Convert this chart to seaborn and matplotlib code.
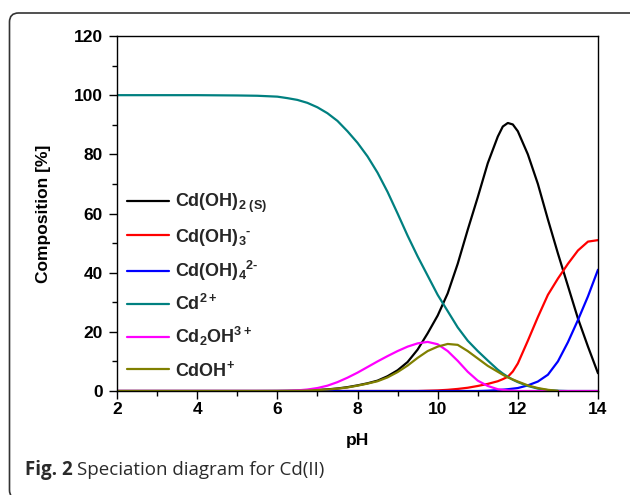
import numpy as np
import pandas as pd
import seaborn as sns
import matplotlib
matplotlib.use("Agg")
import matplotlib.pyplot as plt
from matplotlib.patches import FancyBboxPatch
from matplotlib.transforms import IdentityTransform
from matplotlib.ticker import MultipleLocator

# ---------------- data ----------------
ph = [2, 3, 4, 5, 5.5, 6, 6.25, 6.5, 6.75, 7, 7.25, 7.5, 7.75, 8, 8.25, 8.5, 8.75,
      9, 9.25, 9.5, 9.75, 10, 10.25, 10.5, 10.75, 11, 11.25, 11.5, 11.625, 11.75, 11.875, 12,
      12.25, 12.5, 12.75, 13, 13.25, 13.5, 13.75, 14]

cd_oh2_s = [0, 0, 0, 0, 0, 0.02, 0.05, 0.1, 0.2, 0.35, 0.55, 0.85, 1.3, 1.9, 2.6, 3.5, 5,
            7, 9.8, 14, 19.5, 25.5, 33, 43, 54.5, 65.5, 77, 86, 89.4, 90.6, 90.1, 87.8,
            80, 70, 58, 46.5, 35.5, 24.5, 15, 6]
cd_oh3 = [0, 0, 0, 0, 0, 0, 0, 0, 0, 0, 0, 0, 0, 0, 0, 0, 0,
          0, 0, 0, 0.1, 0.2, 0.4, 0.7, 1.1, 1.7, 2.4, 3.3, 4.0, 4.8, 6.6, 9.3,
          17, 25, 32.5, 38, 43, 47.5, 50.5, 51]
cd_oh4 = [0, 0, 0, 0, 0, 0, 0, 0, 0, 0, 0, 0, 0, 0, 0, 0, 0,
          0, 0, 0, 0, 0, 0, 0, 0, 0, 0.1, 0.3, 0.45, 0.6, 0.8, 1.0,
          1.9, 3.2, 5.5, 10, 16.5, 24, 32, 41]
cd2 = [100, 100, 100, 99.9, 99.8, 99.5, 99, 98.4, 97.4, 95.9, 93.9, 91.3, 87.8, 83.9, 79.3, 73.8, 67.3,
       60, 52.5, 45.5, 39, 32.5, 27, 21.5, 17, 13.5, 10.3, 7.2, 5.9, 4.8, 3.8, 3,
       1.7, 0.8, 0.3, 0.1, 0, 0, 0, 0]
cd2oh = [0, 0, 0, 0, 0, 0, 0.05, 0.2, 0.5, 1.0, 1.8, 3, 4.5, 6.2, 8.1, 10, 11.8,
         13.5, 15, 16.1, 16.6, 15.8, 13.5, 10.2, 6.5, 3.5, 1.7, 0.6, 0.4, 0.2, 0.1, 0,
         0, 0, 0, 0, 0, 0, 0, 0]
cdoh = [0, 0, 0, 0, 0, 0, 0.02, 0.05, 0.15, 0.3, 0.5, 0.8, 1.2, 1.8, 2.5, 3.3, 4.6,
        6.4, 8.6, 11.2, 13.5, 15, 15.9, 15.6, 13.5, 11, 8.5, 6.5, 5.5, 4.6, 3.9, 3.2,
        1.9, 1.0, 0.4, 0.05, np.nan, np.nan, np.nan, np.nan]

HY = "\u2010"
labels = [r"Cd(OH)$_{2\ \mathrm{(S)}}$", "Cd(OH)$_3{}^{" + HY + "}$",
          "Cd(OH)$_4{}^{2" + HY + "}$",
          r"Cd$^{2+}$", r"Cd$_2$OH$^{3+}$", r"CdOH$^{+}$"]
colors = ["#000000", "#ff0000", "#0000ff", "#008080", "#ff00ff", "#808000"]
series = [cd_oh2_s, cd_oh3, cd_oh4, cd2, cd2oh, cdoh]

df = pd.concat([pd.DataFrame({"pH": ph, "Composition": vals, "species": lab})
                for lab, vals in zip(labels, series)], ignore_index=True)

# ---------------- style ----------------
sns.set_theme(style="white")
plt.rcParams["font.family"] = ["Liberation Sans", "DejaVu Sans"]
plt.rcParams["mathtext.fontset"] = "custom"
plt.rcParams["mathtext.rm"] = "Liberation Sans:bold"
plt.rcParams["mathtext.it"] = "Liberation Sans:bold"
plt.rcParams["mathtext.bf"] = "Liberation Sans:bold"
plt.rcParams["mathtext.default"] = "rm"

fig, ax = plt.subplots(figsize=(6.3, 4.95), dpi=100)
fig.subplots_adjust(left=117/630, right=598/630, bottom=1-391/495, top=1-36/495)

sns.lineplot(data=df, x="pH", y="Composition", hue="species", hue_order=labels,
             palette=dict(zip(labels, colors)), linewidth=1.6, ax=ax,
             estimator=None, sort=False)

ax.set_xlim(2, 14)
ax.set_ylim(0, 120)
ax.xaxis.set_major_locator(MultipleLocator(2))
ax.xaxis.set_minor_locator(MultipleLocator(1))
ax.yaxis.set_major_locator(MultipleLocator(20))
ax.yaxis.set_minor_locator(MultipleLocator(10))

for s in ax.spines.values():
    s.set_visible(True)
    s.set_color("black")
    s.set_linewidth(1.0)

ax.tick_params(which="both", direction="out", bottom=True, left=True, top=False,
               right=False, color="black", width=1.0)
ax.tick_params(which="major", length=6)
ax.tick_params(which="minor", length=3.5)
ax.tick_params(axis="y", which="major", pad=4)
ax.tick_params(axis="x", which="major", pad=2)
for lab in ax.get_xticklabels() + ax.get_yticklabels():
    lab.set_fontweight("bold")
    lab.set_fontsize(12.5)
    lab.set_color("black")

ax.set_xlabel("pH", fontsize=12.5, fontweight="bold", color="black")
ax.set_ylabel("Composition [%]", fontsize=12.5, fontweight="bold", color="black")
ax.xaxis.set_label_coords(0.5, -0.118)
ax.yaxis.set_label_coords(-0.137, 0.5)

leg = ax.legend(loc="upper left", bbox_to_anchor=(0.021, 0.56), frameon=False,
                prop=dict(weight="bold", size=13), handlelength=2.3,
                handletextpad=0.35, labelspacing=0.62, borderpad=0,
                borderaxespad=0)
for h in leg.get_lines():
    h.set_linewidth(1.6)

# frame around figure
frame = FancyBboxPatch((9.5, -4), 700, 486, boxstyle="round,pad=0,rounding_size=9",
                       transform=IdentityTransform(), facecolor="none",
                       edgecolor="#333333", linewidth=1.2, clip_on=False)
fig.add_artist(frame)

# caption
cap_y = 1 - 470/495
t1 = fig.text(25/630, cap_y, "Fig. 2", fontsize=13.5, fontweight="bold",
              family=["Open Sans", "DejaVu Sans"], color="#2a2a2a", va="center")
fig.canvas.draw()
bb = t1.get_window_extent()
fig.text((bb.x1 + 4)/630, cap_y, "Speciation diagram for Cd(II)", fontsize=13.5,
         family=["Open Sans", "DejaVu Sans"], color="#2a2a2a", va="center")

fig.savefig("out.png", dpi=100)
